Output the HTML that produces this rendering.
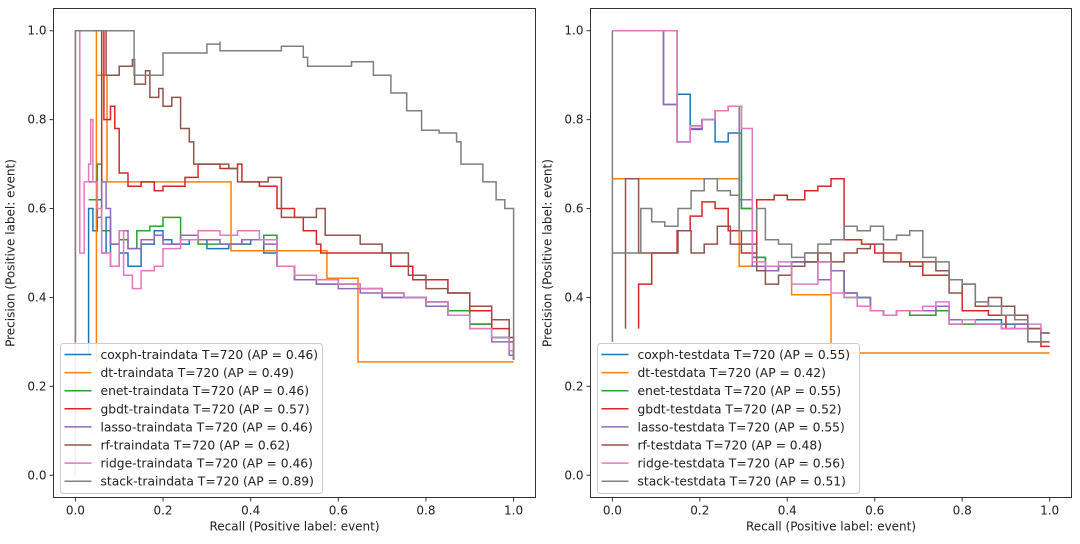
<!DOCTYPE html>
<html><head><meta charset="utf-8"><style>
body{margin:0;background:#fff;}
svg{display:block;font-family:"DejaVu Sans","Liberation Sans",sans-serif;}
</style></head><body>
<svg id="chart" width="1080" height="544" viewBox="0 0 1080 544" xmlns="http://www.w3.org/2000/svg"></svg>
<script>
const colors = ["#1f77b4","#ff7f0e","#2ca02c","#d62728","#9467bd","#8c564b","#e377c2","#7f7f7f"];
const ticks = [0, 0.2, 0.4, 0.6, 0.8, 1.0];
const tickLabels = ["0.0","0.2","0.4","0.6","0.8","1.0"];
const trainLabels = ["coxph-traindata T=720 (AP = 0.46)","dt-traindata T=720 (AP = 0.49)","enet-traindata T=720 (AP = 0.46)","gbdt-traindata T=720 (AP = 0.57)","lasso-traindata T=720 (AP = 0.46)","rf-traindata T=720 (AP = 0.62)","ridge-traindata T=720 (AP = 0.46)","stack-traindata T=720 (AP = 0.89)"];
const testLabels = ["coxph-testdata T=720 (AP = 0.55)","dt-testdata T=720 (AP = 0.42)","enet-testdata T=720 (AP = 0.55)","gbdt-testdata T=720 (AP = 0.52)","lasso-testdata T=720 (AP = 0.55)","rf-testdata T=720 (AP = 0.48)","ridge-testdata T=720 (AP = 0.56)","stack-testdata T=720 (AP = 0.51)"];

// train series
const trCoxR = [0.03,0.03,0.04,0.05,0.06,0.07,0.08,0.1,0.12,0.15,0.18,0.2,0.22,0.26,0.3,0.35,0.4,0.43,0.46,0.5,0.55,0.6,0.65,0.7,0.75,0.8,0.85,0.9,0.95,0.99,1.0];
const trCoxP = [0.27,0.6,0.55,0.62,0.5,0.58,0.47,0.5,0.47,0.52,0.55,0.53,0.52,0.53,0.51,0.52,0.53,0.5,0.47,0.44,0.44,0.43,0.42,0.4,0.4,0.39,0.37,0.34,0.31,0.28,0.26];
const trDtR = [0.048,0.048,0.048,0.072,0.072,0.355,0.574,0.645,1.0];
const trDtP = [0.255,1.0,0.9,0.9,0.66,0.505,0.443,0.255,0.255];
const trEnetR = [0.03,0.05,0.06,0.08,0.1,0.12,0.14,0.17,0.2,0.24,0.28,0.33,0.38,0.43,0.46,0.5,0.55,0.6,0.65,0.7,0.75,0.8,0.85,0.9,0.95,0.99,1.0];
const trEnetP = [0.62,0.7,0.55,0.52,0.53,0.51,0.55,0.56,0.58,0.53,0.52,0.52,0.53,0.54,0.47,0.44,0.43,0.43,0.42,0.41,0.40,0.39,0.37,0.34,0.31,0.28,0.26];
const trGbdtR = [0.06,0.06,0.065,0.08,0.09,0.1,0.12,0.15,0.18,0.2,0.25,0.28,0.33,0.37,0.38,0.42,0.46,0.5,0.52,0.55,0.56,0.63,0.68,0.72,0.77,0.85,0.9,0.95,0.99,1.0];
const trGbdtP = [0.6,1.0,0.8,0.83,0.78,0.68,0.65,0.66,0.64,0.65,0.67,0.7,0.69,0.7,0.66,0.65,0.6,0.58,0.55,0.52,0.5,0.5,0.5,0.47,0.44,0.41,0.37,0.33,0.31,0.26];
const trLassoR = [0.03,0.05,0.06,0.07,0.08,0.1,0.12,0.15,0.18,0.2,0.24,0.28,0.33,0.38,0.43,0.46,0.5,0.55,0.6,0.65,0.7,0.75,0.8,0.85,0.9,0.95,0.99,1.0];
const trLassoP = [0.66,0.58,0.66,0.6,0.52,0.55,0.51,0.53,0.54,0.52,0.54,0.53,0.52,0.53,0.52,0.47,0.44,0.43,0.42,0.41,0.40,0.40,0.38,0.36,0.33,0.30,0.27,0.26];
const trRfR = [0.07,0.07,0.07,0.1,0.13,0.135,0.16,0.17,0.19,0.2,0.22,0.24,0.26,0.27,0.35,0.37,0.44,0.47,0.55,0.57,0.65,0.7,0.76,0.8,0.85,0.9,0.95,0.99,1.0];
const trRfP = [0.9,1.0,0.9,0.92,0.935,0.88,0.91,0.85,0.87,0.83,0.85,0.78,0.75,0.7,0.69,0.66,0.67,0.58,0.6,0.54,0.52,0.5,0.45,0.42,0.41,0.38,0.35,0.3,0.27];
const trRidgeR = [0,0,0.01,0.02,0.03,0.035,0.04,0.05,0.06,0.08,0.1,0.11,0.13,0.15,0.18,0.2,0.24,0.28,0.33,0.37,0.42,0.46,0.5,0.55,0.6,0.65,0.7,0.75,0.8,0.85,0.9,0.95,0.99,1.0];
const trRidgeP = [0.0,1.0,0.5,0.66,0.7,0.8,0.66,0.6,0.5,0.47,0.55,0.45,0.42,0.46,0.47,0.51,0.53,0.55,0.54,0.55,0.53,0.47,0.45,0.44,0.43,0.42,0.41,0.40,0.39,0.36,0.33,0.31,0.28,0.26];
const trStackR = [0.0,0.0,0.134,0.134,0.2,0.3,0.33,0.33,0.47,0.52,0.53,0.63,0.68,0.72,0.756,0.79,0.83,0.87,0.88,0.93,0.96,0.98,1.0,1.0];
const trStackP = [0.3,1.0,1.0,0.9,0.95,0.97,0.976,0.955,0.965,0.94,0.92,0.93,0.9,0.86,0.82,0.776,0.77,0.75,0.70,0.66,0.62,0.6,0.6,0.26];

// test series
const teCoxR = [0,0.117,0.148,0.178,0.205,0.235,0.265,0.295,0.32,0.35,0.38,0.41,0.44,0.47,0.5,0.53,0.56,0.59,0.62,0.65,0.68,0.71,0.74,0.77,0.8,0.83,0.86,0.89,0.92,0.95,0.98,1.0];
const teCoxP = [1.0,0.834,0.857,0.778,0.8,0.75,0.77,0.6,0.49,0.46,0.47,0.48,0.48,0.48,0.46,0.41,0.40,0.37,0.36,0.37,0.37,0.37,0.38,0.35,0.35,0.35,0.35,0.34,0.34,0.33,0.32,0.32];
const teDtR = [0,0.29,0.41,0.5,1.0];
const teDtP = [0.667,0.47,0.406,0.275,0.275];
const teEnetR = [0,0.148,0.178,0.205,0.235,0.265,0.295,0.32,0.35,0.38,0.41,0.44,0.47,0.5,0.53,0.56,0.59,0.62,0.65,0.68,0.71,0.74,0.77,0.8,0.83,0.86,0.89,0.92,0.95,0.98,1.0];
const teEnetP = [1.0,0.75,0.786,0.8,0.82,0.83,0.6,0.49,0.46,0.47,0.48,0.48,0.48,0.46,0.40,0.40,0.37,0.36,0.37,0.36,0.36,0.37,0.34,0.34,0.34,0.34,0.33,0.34,0.33,0.32,0.32];
const teGbdtR = [0.06,0.06,0.09,0.148,0.178,0.205,0.235,0.265,0.295,0.33,0.37,0.4,0.44,0.47,0.5,0.53,0.57,0.6,0.66,0.71,0.77,0.8,0.86,0.9,0.95,0.98,1.0];
const teGbdtP = [0.33,0.43,0.5,0.55,0.583,0.615,0.6,0.55,0.5,0.62,0.63,0.62,0.64,0.65,0.667,0.53,0.52,0.5,0.48,0.45,0.44,0.37,0.36,0.33,0.3,0.29,0.29];
const teLassoR = [0,0.117,0.148,0.178,0.205,0.235,0.265,0.29,0.32,0.35,0.38,0.41,0.44,0.47,0.5,0.53,0.56,0.59,0.62,0.65,0.68,0.71,0.74,0.77,0.8,0.83,0.86,0.89,0.92,0.95,0.98,1.0];
const teLassoP = [1.0,0.834,0.75,0.78,0.8,0.82,0.83,0.62,0.47,0.46,0.47,0.48,0.50,0.44,0.46,0.41,0.40,0.37,0.36,0.37,0.37,0.37,0.38,0.35,0.35,0.34,0.34,0.33,0.34,0.33,0.32,0.32];
const teRfR = [0.03,0.03,0.06,0.09,0.12,0.15,0.18,0.21,0.24,0.27,0.29,0.33,0.35,0.38,0.41,0.44,0.47,0.5,0.53,0.56,0.59,0.62,0.65,0.68,0.71,0.74,0.77,0.8,0.83,0.86,0.89,0.92,0.95,0.98,1.0];
const teRfP = [0.33,0.667,0.5,0.5,0.5,0.55,0.5,0.52,0.56,0.52,0.52,0.46,0.43,0.45,0.47,0.48,0.5,0.48,0.5,0.51,0.52,0.48,0.48,0.47,0.48,0.46,0.41,0.43,0.38,0.40,0.38,0.36,0.33,0.30,0.30];
const teRidgeR = [0,0.148,0.178,0.205,0.235,0.265,0.295,0.32,0.35,0.38,0.41,0.44,0.47,0.5,0.53,0.56,0.59,0.62,0.65,0.68,0.71,0.74,0.77,0.8,0.83,0.86,0.89,0.92,0.95,0.98,1.0];
const teRidgeP = [1.0,0.75,0.786,0.8,0.82,0.83,0.78,0.48,0.47,0.48,0.43,0.43,0.48,0.41,0.40,0.38,0.37,0.36,0.37,0.37,0.38,0.39,0.34,0.35,0.34,0.34,0.33,0.33,0.34,0.32,0.32];
const teStackR = [0,0,0,0.065,0.09,0.12,0.15,0.18,0.21,0.24,0.27,0.29,0.33,0.35,0.38,0.41,0.44,0.47,0.5,0.53,0.56,0.59,0.62,0.65,0.68,0.71,0.74,0.77,0.8,0.83,0.86,0.89,0.92,0.95,0.98,1.0];
const teStackP = [0.3,1.0,0.5,0.6,0.57,0.56,0.6,0.64,0.667,0.64,0.63,0.55,0.6,0.53,0.52,0.49,0.5,0.52,0.53,0.56,0.55,0.56,0.53,0.54,0.55,0.49,0.48,0.44,0.43,0.39,0.38,0.36,0.35,0.30,0.32,0.32];

const trainR = [trCoxR,trDtR,trEnetR,trGbdtR,trLassoR,trRfR,trRidgeR,trStackR];
const trainP = [trCoxP,trDtP,trEnetP,trGbdtP,trLassoP,trRfP,trRidgeP,trStackP];
const testR = [teCoxR,teDtR,teEnetR,teGbdtR,teLassoR,teRfR,teRidgeR,teStackR];
const testP = [teCoxP,teDtP,teEnetP,teGbdtP,teLassoP,teRfP,teRidgeP,teStackP];

const NS = "http://www.w3.org/2000/svg";
const svg = document.getElementById('chart');
function mk(tag, attrs, parent){const e=document.createElementNS(NS,tag);for(const k in attrs)e.setAttribute(k,attrs[k]);(parent||svg).appendChild(e);return e;}

function panel(name, left, top, w, h, R, P, labels){
  const g = mk('g',{});
  
  
  const x0 = left + w*0.05/1.1, xs = w/1.1;
  const yb = top + h - h*0.05/1.1, ys = h/1.1;
  const X = v => x0 + v*xs, Y = v => yb - v*ys;
  for (let s=0;s<R.length;s++){
    let d = 'M'+X(R[s][0]).toFixed(1)+' '+Y(P[s][0]).toFixed(1);
    for (let i=1;i<R[s].length;i++) d += ' H'+X(R[s][i]).toFixed(1)+' V'+Y(P[s][i]).toFixed(1);
    const p = mk('path',{d:d,fill:'none',stroke:colors[s],'stroke-width':1.5},g);
    
    
  }
  const fr = mk('rect',{x:left,y:top,width:w,height:h,fill:'none',stroke:'#333','stroke-width':1},g);
  
  
  for (let i=0;i<ticks.length;i++){
    mk('line',{x1:X(ticks[i]),x2:X(ticks[i]),y1:top+h,y2:top+h+4,stroke:'#333'},g);
    const tx = mk('text',{x:X(ticks[i]),y:top+h+17,'text-anchor':'middle','font-size':12,fill:'#222'},g);
    tx.textContent = tickLabels[i];
    
    
    mk('line',{x1:left-4,x2:left,y1:Y(ticks[i]),y2:Y(ticks[i]),stroke:'#333'},g);
    const ty = mk('text',{x:left-7,y:Y(ticks[i])+4,'text-anchor':'end','font-size':12,fill:'#222'},g);
    ty.textContent = tickLabels[i];
    
    
  }
  const xl = mk('text',{x:left+w/2,y:top+h+33,'text-anchor':'middle','font-size':12,fill:'#222'},g);
  xl.textContent = 'Recall (Positive label: event)';
  
  
  const yx = left-39, yy = top+h/2;
  const yl = mk('text',{x:yx,y:yy,'text-anchor':'middle','font-size':12,fill:'#222',transform:'rotate(-90 '+yx+' '+yy+')'},g);
  yl.textContent = 'Precision (Positive label: event)';
  
  
  const lg = mk('g',{},g);
  
  
  mk('rect',{x:left+7,y:top+335,width:262,height:150,rx:3,fill:'#fff','fill-opacity':0.85,stroke:'#ccc'},lg);
  for (let s=0;s<labels.length;s++){
    const ey = top+346+s*18.1;
    const en = mk('g',{},lg);
    
    
    mk('line',{x1:left+11,x2:left+38,y1:ey,y2:ey,stroke:colors[s],'stroke-width':1.5},en);
    const t = mk('text',{x:left+47,y:ey+4.5,'font-size':12.3,fill:'#222'},en);
    t.textContent = labels[s];
  }
}
panel('train-pr-panel', 53.5, 8.5, 482, 489, trainR, trainP, trainLabels);
panel('test-pr-panel', 590.5, 8.5, 481, 489, testR, testP, testLabels);
</script>
</body></html>
